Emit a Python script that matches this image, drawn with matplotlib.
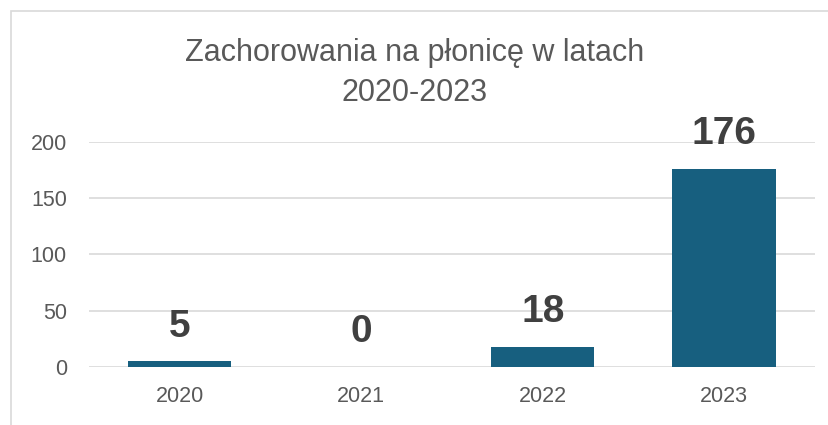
import matplotlib
matplotlib.use('Agg')
import matplotlib.pyplot as plt
from matplotlib.patches import Rectangle

# data
years = ['2020', '2021', '2022', '2023']
cases = [5, 0, 18, 176]
y_ticks = [0, 50, 100, 150, 200]

title = 'Zachorowania na płonicę w latach\n2020-2023'
fonts = ['Liberation Sans', 'DejaVu Sans']

fig = plt.figure(figsize=(8.29, 4.25), dpi=100)
ax = fig.add_axes([0.1074, 0.1365, 0.8756, 0.5295])

# light frame at top/left like the cropped excel chart
fig.patches.append(Rectangle((11 / 829, -0.1), 1.2, 1.0 - 11 / 425 + 0.1,
                             transform=fig.transFigure, fill=False,
                             edgecolor='#d9d9d9', linewidth=1.2))

bars = ax.bar(range(len(years)), cases, width=0.57, color='#175f7f', zorder=3)

for b, v in zip(bars, cases):
    ax.annotate(str(v), (b.get_x() + b.get_width() / 2, v),
                xytext=(0, 12), textcoords='offset points',
                ha='center', va='bottom', fontsize=28, fontweight='bold',
                color='#404040', family=fonts)

ax.set_xlim(-0.5, len(years) - 0.5)
ax.set_ylim(0, 200)
ax.set_yticks(y_ticks)
ax.set_xticks(range(len(years)))
ax.set_xticklabels(years)
ax.grid(axis='y', color='#d9d9d9', linewidth=1.2, zorder=0)
for s in ax.spines.values():
    s.set_visible(False)
ax.tick_params(length=0, labelsize=15.5, labelcolor='#595959')
ax.tick_params(axis='y', pad=16)
ax.tick_params(axis='x', pad=14)
for lbl in ax.get_xticklabels() + ax.get_yticklabels():
    lbl.set_family(fonts)

fig.text(0.5, 1 - 73 / 425, title, ha='center', va='center', fontsize=22,
         color='#595959', linespacing=1.45, family=fonts)

fig.savefig('out.png', dpi=100)
